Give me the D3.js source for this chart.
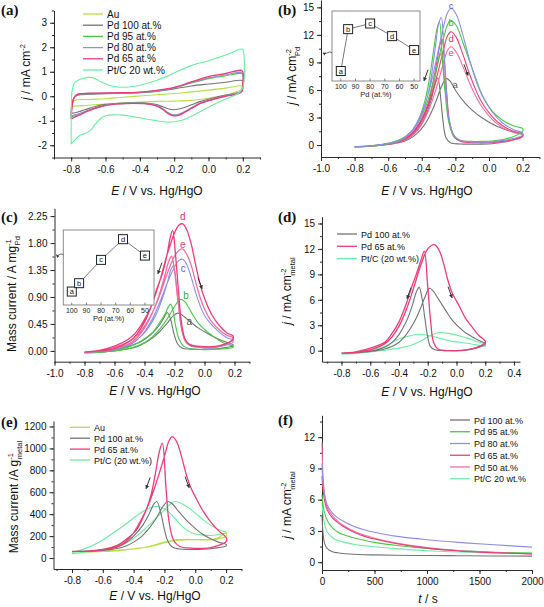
<!DOCTYPE html>
<html><head><meta charset="utf-8">
<script src="https://cdn.jsdelivr.net/npm/d3@7"></script>
<style>body{margin:0;background:#fff}svg{display:block}</style>
</head><body>
<script>
// ---------- colours per sample ----------
const COL = {Au:"#b9dc4a", Pd100:"#737373", Pd95:"#45c845", Pd80:"#8e8ee6", Pd65:"#ec3d78", Pd50:"#ee6f9f", PtC:"#6aeea0"};

// ---------- (a) CVs in KOH : [E (V), j (mA cm-2)] ----------
const cvA_Au = [[-0.8,-0.55],[-0.795,-0.3],[-0.78,-0.17],[-0.7,-0.13],[-0.6,-0.1],[-0.5,-0.04],[-0.4,0.01],[-0.3,0.06],[-0.2,0.11],[-0.1,0.18],[0.0,0.25],[0.1,0.33],[0.19,0.42],[0.2,0.35],[0.19,0.26],[0.15,0.15],[0.1,0.05],[0.0,-0.08],[-0.1,-0.17],[-0.2,-0.2],[-0.3,-0.21],[-0.4,-0.24],[-0.5,-0.28],[-0.6,-0.32],[-0.7,-0.37],[-0.8,-0.45],[-0.8,-0.55]];
const cvA_Pd100 = [[-0.8,-0.7],[-0.795,-0.35],[-0.785,-0.1],[-0.77,0.02],[-0.75,0.06],[-0.7,0.08],[-0.6,0.1],[-0.5,0.12],[-0.4,0.14],[-0.3,0.2],[-0.2,0.3],[-0.1,0.42],[0.0,0.5],[0.1,0.57],[0.19,0.65],[0.2,0.6],[0.2,0.35],[0.19,0.2],[0.15,0.1],[0.1,0.05],[0.05,-0.03],[0.0,-0.12],[-0.05,-0.22],[-0.1,-0.35],[-0.15,-0.48],[-0.2,-0.55],[-0.23,-0.52],[-0.27,-0.42],[-0.31,-0.33],[-0.37,-0.28],[-0.45,-0.27],[-0.53,-0.29],[-0.6,-0.33],[-0.66,-0.42],[-0.72,-0.55],[-0.76,-0.64],[-0.8,-0.7]];
const cvA_Pd95 = [[-0.8,-0.85],[-0.795,-0.4],[-0.785,-0.08],[-0.77,0.04],[-0.75,0.08],[-0.7,0.1],[-0.6,0.12],[-0.5,0.13],[-0.4,0.15],[-0.3,0.22],[-0.2,0.34],[-0.1,0.54],[0.0,0.72],[0.1,0.84],[0.19,0.93],[0.2,0.88],[0.2,0.45],[0.19,0.2],[0.15,0.1],[0.1,0.02],[0.05,-0.07],[0.0,-0.17],[-0.05,-0.29],[-0.1,-0.48],[-0.14,-0.64],[-0.18,-0.77],[-0.21,-0.77],[-0.24,-0.66],[-0.27,-0.5],[-0.31,-0.36],[-0.36,-0.3],[-0.44,-0.28],[-0.52,-0.3],[-0.58,-0.34],[-0.64,-0.44],[-0.7,-0.58],[-0.75,-0.72],[-0.8,-0.85]];
const cvA_Pd80 = [[-0.8,-0.8],[-0.795,-0.38],[-0.785,-0.08],[-0.77,0.05],[-0.75,0.09],[-0.7,0.11],[-0.6,0.12],[-0.5,0.14],[-0.4,0.16],[-0.3,0.23],[-0.2,0.35],[-0.1,0.56],[0.0,0.75],[0.1,0.87],[0.19,0.97],[0.2,0.9],[0.2,0.45],[0.19,0.2],[0.15,0.1],[0.1,0.02],[0.05,-0.07],[0.0,-0.17],[-0.05,-0.29],[-0.1,-0.47],[-0.14,-0.63],[-0.18,-0.75],[-0.21,-0.75],[-0.24,-0.65],[-0.27,-0.5],[-0.31,-0.36],[-0.36,-0.3],[-0.44,-0.28],[-0.52,-0.3],[-0.58,-0.34],[-0.64,-0.44],[-0.7,-0.57],[-0.75,-0.7],[-0.8,-0.8]];
const cvA_Pd65 = [[-0.8,-0.92],[-0.795,-0.4],[-0.785,-0.08],[-0.77,0.05],[-0.75,0.1],[-0.7,0.12],[-0.6,0.13],[-0.5,0.14],[-0.44,0.15],[-0.35,0.2],[-0.3,0.24],[-0.2,0.36],[-0.1,0.58],[0.0,0.8],[0.1,0.93],[0.19,1.06],[0.2,1.0],[0.2,0.5],[0.195,0.2],[0.17,0.1],[0.14,0.05],[0.1,0.0],[0.05,-0.08],[0.0,-0.18],[-0.05,-0.3],[-0.1,-0.5],[-0.14,-0.66],[-0.18,-0.79],[-0.21,-0.79],[-0.24,-0.68],[-0.27,-0.52],[-0.31,-0.38],[-0.36,-0.31],[-0.44,-0.29],[-0.52,-0.31],[-0.58,-0.35],[-0.64,-0.45],[-0.7,-0.6],[-0.75,-0.76],[-0.8,-0.92]];
const cvA_PtC = [[-0.8,-1.95],[-0.799,-0.5],[-0.795,0.2],[-0.78,0.55],[-0.75,0.68],[-0.7,0.77],[-0.67,0.75],[-0.63,0.6],[-0.58,0.45],[-0.53,0.38],[-0.48,0.37],[-0.4,0.45],[-0.3,0.65],[-0.23,0.85],[-0.17,1.05],[-0.1,1.25],[0.0,1.45],[0.1,1.68],[0.19,1.93],[0.2,1.9],[0.2,0.35],[0.17,0.1],[0.14,0.0],[0.1,-0.12],[0.05,-0.27],[0.0,-0.45],[-0.05,-0.63],[-0.1,-0.82],[-0.15,-0.97],[-0.2,-1.04],[-0.25,-1.05],[-0.3,-1.0],[-0.35,-0.95],[-0.4,-0.88],[-0.45,-0.82],[-0.5,-0.77],[-0.55,-0.76],[-0.6,-0.8],[-0.63,-0.92],[-0.66,-1.15],[-0.69,-1.4],[-0.72,-1.52],[-0.75,-1.6],[-0.78,-1.8],[-0.8,-1.95]];

// ---------- (b) ethanol CVs, j per Pd area [E, j] (forward then backward) ----------
const cvB_a = [[-0.8,-0.18],[-0.712,-0.12],[-0.624,0.0],[-0.537,0.25],[-0.493,0.5],[-0.449,0.95],[-0.405,1.7],[-0.361,2.9],[-0.317,4.7],[-0.282,6.4],[-0.254,7.26],[-0.229,6.9],[-0.194,5.8],[-0.144,4.6],[-0.094,3.7],[-0.044,3.0],[0.019,2.3],[0.081,1.8],[0.144,1.4],[0.2,1.15],[0.2,0.95],[0.144,0.55],[0.081,0.3],[0.019,0.15],[-0.044,0.1],[-0.106,0.1],[-0.169,0.12],[-0.229,0.25],[-0.256,0.8],[-0.273,2.5],[-0.287,5.0],[-0.304,7.3],[-0.321,6.6],[-0.343,5.0],[-0.370,3.5],[-0.405,2.2],[-0.449,1.2],[-0.493,0.65],[-0.537,0.35],[-0.624,0.05],[-0.712,-0.1],[-0.8,-0.18]];
const cvB_b = [[-0.8,-0.2],[-0.712,-0.12],[-0.624,0.05],[-0.537,0.45],[-0.493,0.9],[-0.449,1.7],[-0.405,3.0],[-0.361,5.0],[-0.317,8.0],[-0.273,11.5],[-0.247,13.1],[-0.229,13.6],[-0.194,13.0],[-0.156,11.2],[-0.119,9.3],[-0.081,7.4],[-0.044,5.6],[0.019,3.7],[0.081,2.7],[0.144,2.1],[0.2,1.8],[0.2,1.5],[0.144,0.9],[0.081,0.6],[0.019,0.45],[-0.044,0.4],[-0.106,0.4],[-0.169,0.5],[-0.206,0.9],[-0.238,2.4],[-0.260,5.5],[-0.278,9.5],[-0.295,13.4],[-0.308,12.8],[-0.326,10.8],[-0.352,7.5],[-0.379,5.0],[-0.414,3.0],[-0.449,1.8],[-0.493,1.0],[-0.537,0.55],[-0.624,0.1],[-0.712,-0.1],[-0.8,-0.2]];
const cvB_c = [[-0.8,-0.18],[-0.712,-0.1],[-0.624,0.1],[-0.537,0.45],[-0.493,0.9],[-0.449,1.8],[-0.405,3.3],[-0.361,5.6],[-0.317,9.0],[-0.273,12.7],[-0.247,14.4],[-0.225,14.9],[-0.194,14.2],[-0.156,12.0],[-0.119,9.5],[-0.081,7.2],[-0.044,5.5],[0.019,3.6],[0.081,2.4],[0.144,1.7],[0.2,1.3],[0.2,1.1],[0.144,0.7],[0.081,0.5],[0.019,0.35],[-0.044,0.3],[-0.106,0.35],[-0.169,0.5],[-0.206,1.0],[-0.238,2.8],[-0.256,6.5],[-0.269,10.5],[-0.284,13.9],[-0.300,13.2],[-0.317,11.0],[-0.343,7.5],[-0.370,5.0],[-0.405,3.1],[-0.449,1.7],[-0.493,0.95],[-0.537,0.5],[-0.624,0.1],[-0.712,-0.1],[-0.8,-0.18]];
const cvB_d = [[-0.8,-0.18],[-0.712,-0.12],[-0.624,0.05],[-0.537,0.35],[-0.493,0.7],[-0.449,1.35],[-0.405,2.5],[-0.361,4.3],[-0.317,7.0],[-0.273,10.2],[-0.247,11.9],[-0.225,12.35],[-0.194,11.7],[-0.156,9.9],[-0.119,7.9],[-0.081,6.1],[-0.044,4.7],[0.019,3.1],[0.081,2.1],[0.144,1.5],[0.2,1.2],[0.2,1.0],[0.144,0.6],[0.081,0.4],[0.019,0.3],[-0.044,0.25],[-0.106,0.3],[-0.169,0.45],[-0.206,0.9],[-0.234,2.5],[-0.251,5.5],[-0.264,8.8],[-0.278,11.5],[-0.291,11.0],[-0.308,9.3],[-0.335,6.6],[-0.361,4.6],[-0.405,2.7],[-0.449,1.5],[-0.493,0.8],[-0.537,0.4],[-0.624,0.05],[-0.712,-0.12],[-0.8,-0.18]];
const cvB_e = [[-0.8,-0.18],[-0.712,-0.12],[-0.624,0.03],[-0.537,0.3],[-0.493,0.6],[-0.449,1.15],[-0.405,2.1],[-0.361,3.7],[-0.317,6.0],[-0.273,8.8],[-0.247,10.3],[-0.225,10.7],[-0.194,10.1],[-0.156,8.6],[-0.119,6.9],[-0.081,5.4],[-0.044,4.2],[0.019,2.8],[0.081,1.9],[0.144,1.4],[0.2,1.1],[0.2,0.9],[0.144,0.55],[0.081,0.35],[0.019,0.25],[-0.044,0.22],[-0.106,0.25],[-0.169,0.4],[-0.206,0.8],[-0.234,2.2],[-0.251,4.8],[-0.269,7.9],[-0.282,10.0],[-0.295,9.6],[-0.313,8.1],[-0.339,5.7],[-0.370,3.8],[-0.405,2.4],[-0.449,1.3],[-0.493,0.7],[-0.537,0.35],[-0.624,0.03],[-0.712,-0.12],[-0.8,-0.18]];
const insetB_pd = [100, 95, 80, 65, 50];
const insetB_j = [7.4, 14.1, 15.0, 12.98, 10.75];
const insetLetters = ["a","b","c","d","e"];

// ---------- (c) mass current [E, A mg-1 Pd] ----------
const cvC_a = [[-0.8,-0.03],[-0.7,-0.02],[-0.6,0.0],[-0.5,0.04],[-0.45,0.07],[-0.4,0.13],[-0.35,0.21],[-0.3,0.32],[-0.25,0.46],[-0.21,0.58],[-0.18,0.63],[-0.15,0.6],[-0.12,0.54],[-0.08,0.46],[-0.04,0.38],[0.0,0.32],[0.05,0.25],[0.1,0.19],[0.15,0.14],[0.19,0.1],[0.19,0.08],[0.15,0.06],[0.1,0.04],[0.0,0.03],[-0.1,0.03],[-0.15,0.05],[-0.18,0.12],[-0.205,0.3],[-0.225,0.52],[-0.248,0.64],[-0.265,0.58],[-0.29,0.47],[-0.32,0.37],[-0.36,0.27],[-0.42,0.16],[-0.5,0.08],[-0.6,0.02],[-0.7,-0.02],[-0.8,-0.03]];
const cvC_b = [[-0.8,-0.03],[-0.7,-0.02],[-0.6,0.0],[-0.5,0.04],[-0.45,0.08],[-0.4,0.14],[-0.35,0.23],[-0.3,0.36],[-0.25,0.53],[-0.2,0.74],[-0.175,0.83],[-0.157,0.86],[-0.13,0.82],[-0.1,0.7],[-0.07,0.57],[-0.04,0.46],[0.0,0.36],[0.05,0.26],[0.1,0.17],[0.15,0.11],[0.19,0.08],[0.19,0.06],[0.15,0.04],[0.1,0.03],[0.0,0.02],[-0.1,0.04],[-0.14,0.08],[-0.17,0.2],[-0.195,0.45],[-0.21,0.68],[-0.225,0.78],[-0.24,0.74],[-0.26,0.63],[-0.3,0.47],[-0.35,0.3],[-0.42,0.17],[-0.5,0.07],[-0.6,0.01],[-0.7,-0.02],[-0.8,-0.03]];
const cvC_c = [[-0.8,-0.03],[-0.7,-0.01],[-0.6,0.02],[-0.5,0.1],[-0.45,0.18],[-0.4,0.32],[-0.35,0.52],[-0.3,0.8],[-0.25,1.12],[-0.2,1.4],[-0.17,1.51],[-0.145,1.53],[-0.12,1.45],[-0.09,1.24],[-0.06,0.98],[-0.03,0.76],[0.0,0.59],[0.05,0.43],[0.1,0.31],[0.15,0.22],[0.19,0.18],[0.19,0.14],[0.15,0.1],[0.1,0.07],[0.05,0.05],[0.0,0.05],[-0.05,0.06],[-0.1,0.09],[-0.13,0.17],[-0.155,0.4],[-0.175,0.8],[-0.192,1.2],[-0.208,1.42],[-0.225,1.35],[-0.25,1.12],[-0.28,0.88],[-0.32,0.62],[-0.37,0.4],[-0.42,0.25],[-0.48,0.14],[-0.6,0.04],[-0.7,-0.01],[-0.8,-0.03]];
const cvC_d = [[-0.8,-0.02],[-0.7,0.0],[-0.6,0.04],[-0.5,0.16],[-0.45,0.28],[-0.4,0.48],[-0.35,0.78],[-0.3,1.15],[-0.25,1.6],[-0.2,1.97],[-0.17,2.1],[-0.145,2.12],[-0.12,2.03],[-0.09,1.8],[-0.06,1.45],[-0.03,1.12],[0.0,0.88],[0.05,0.6],[0.1,0.42],[0.15,0.3],[0.19,0.25],[0.19,0.2],[0.15,0.13],[0.1,0.09],[0.05,0.07],[0.0,0.07],[-0.05,0.08],[-0.1,0.11],[-0.13,0.2],[-0.155,0.5],[-0.175,1.05],[-0.195,1.65],[-0.212,2.01],[-0.228,1.9],[-0.25,1.6],[-0.28,1.3],[-0.32,1.02],[-0.36,0.72],[-0.41,0.48],[-0.46,0.3],[-0.51,0.19],[-0.6,0.08],[-0.7,0.01],[-0.8,-0.02]];
const cvC_e = [[-0.8,-0.02],[-0.7,0.0],[-0.6,0.03],[-0.5,0.12],[-0.45,0.22],[-0.4,0.38],[-0.35,0.62],[-0.3,0.92],[-0.25,1.28],[-0.2,1.58],[-0.17,1.68],[-0.145,1.7],[-0.12,1.62],[-0.09,1.44],[-0.06,1.16],[-0.03,0.9],[0.0,0.7],[0.05,0.48],[0.1,0.35],[0.15,0.26],[0.19,0.22],[0.19,0.18],[0.15,0.12],[0.1,0.08],[0.05,0.06],[0.0,0.06],[-0.05,0.07],[-0.1,0.1],[-0.13,0.18],[-0.155,0.42],[-0.18,0.9],[-0.2,1.35],[-0.22,1.58],[-0.24,1.48],[-0.265,1.25],[-0.3,0.95],[-0.34,0.68],[-0.39,0.45],[-0.44,0.28],[-0.5,0.16],[-0.6,0.06],[-0.7,0.0],[-0.8,-0.02]];
const insetC_pd = [100, 95, 80, 65, 50];
const insetC_m = [0.62, 0.857, 1.515, 2.1, 1.637];

// ---------- (d) j per metal area [E, j] ----------
const cvD_Pd100 = [[-0.8,-0.3],[-0.7,-0.25],[-0.6,-0.1],[-0.5,0.2],[-0.45,0.5],[-0.4,1.0],[-0.35,1.9],[-0.3,3.2],[-0.26,4.6],[-0.22,6.3],[-0.189,7.35],[-0.16,7.0],[-0.13,6.2],[-0.1,5.4],[-0.07,4.6],[-0.03,3.6],[0.015,2.8],[0.06,2.15],[0.108,1.65],[0.15,1.25],[0.2,0.87],[0.2,0.75],[0.15,0.35],[0.1,0.15],[0.05,0.05],[0.0,0.0],[-0.05,0.0],[-0.1,0.02],[-0.15,0.1],[-0.18,0.45],[-0.2,1.6],[-0.22,3.8],[-0.24,6.2],[-0.26,7.47],[-0.28,6.9],[-0.31,5.2],[-0.35,3.4],[-0.4,1.9],[-0.45,0.95],[-0.5,0.4],[-0.6,-0.05],[-0.7,-0.22],[-0.8,-0.3]];
const cvD_Pd65 = [[-0.8,-0.3],[-0.7,-0.2],[-0.6,0.1],[-0.5,0.8],[-0.45,1.6],[-0.4,2.9],[-0.35,4.8],[-0.3,7.3],[-0.25,10.0],[-0.2,12.0],[-0.154,12.5],[-0.12,11.8],[-0.09,10.3],[-0.06,8.3],[-0.03,6.8],[0.015,5.4],[0.06,3.9],[0.108,2.8],[0.15,1.9],[0.2,1.1],[0.2,0.95],[0.15,0.45],[0.1,0.2],[0.05,0.05],[0.0,0.0],[-0.05,0.0],[-0.1,0.05],[-0.13,0.2],[-0.16,1.0],[-0.18,3.5],[-0.2,7.5],[-0.224,11.74],[-0.245,10.8],[-0.28,9.0],[-0.31,7.6],[-0.35,5.5],[-0.4,3.4],[-0.45,2.0],[-0.495,1.06],[-0.59,0.35],[-0.7,-0.15],[-0.8,-0.3]];
const cvD_PtC = [[-0.8,-0.4],[-0.7,-0.32],[-0.6,-0.15],[-0.5,0.05],[-0.4,0.3],[-0.31,0.67],[-0.25,1.15],[-0.2,1.6],[-0.16,1.95],[-0.131,2.12],[-0.09,2.1],[-0.03,1.95],[0.03,1.7],[0.08,1.45],[0.13,1.15],[0.2,0.75],[0.2,0.55],[0.15,0.65],[0.085,0.85],[0.03,1.0],[-0.03,1.1],[-0.08,1.3],[-0.124,1.5],[-0.18,1.75],[-0.22,1.88],[-0.26,1.93],[-0.3,1.85],[-0.35,1.65],[-0.4,1.38],[-0.45,0.95],[-0.5,0.5],[-0.55,0.25],[-0.6,0.1],[-0.7,-0.15],[-0.8,-0.38]];

// ---------- (e) mass current [E, A g-1 metal] ----------
const cvE_Au = [[-0.8,55],[-0.7,55],[-0.6,60],[-0.5,68],[-0.4,82],[-0.3,105],[-0.25,125],[-0.2,145],[-0.15,160],[-0.1,168],[-0.05,170],[0.0,168],[0.05,165],[0.1,168],[0.15,185],[0.2,230],[0.2,200],[0.15,175],[0.1,168],[0.05,168],[0.0,168],[-0.05,167],[-0.1,162],[-0.15,155],[-0.2,140],[-0.25,120],[-0.3,103],[-0.4,85],[-0.5,72],[-0.6,65],[-0.7,60],[-0.8,58]];
const cvE_Pd100 = [[-0.8,60],[-0.7,62],[-0.6,70],[-0.5,90],[-0.45,110],[-0.4,145],[-0.35,195],[-0.3,270],[-0.25,370],[-0.21,470],[-0.179,516],[-0.15,495],[-0.12,445],[-0.08,380],[-0.04,320],[0.0,270],[0.05,215],[0.1,175],[0.15,145],[0.2,125],[0.2,110],[0.15,95],[0.1,85],[0.05,80],[0.0,78],[-0.05,78],[-0.1,82],[-0.15,100],[-0.18,160],[-0.2,260],[-0.22,390],[-0.25,516],[-0.27,490],[-0.3,400],[-0.34,300],[-0.4,200],[-0.45,140],[-0.5,105],[-0.6,75],[-0.7,63],[-0.8,60]];
const cvE_Pd65 = [[-0.8,60],[-0.7,63],[-0.6,78],[-0.5,105],[-0.45,150],[-0.4,230],[-0.35,350],[-0.3,500],[-0.25,700],[-0.2,930],[-0.17,1070],[-0.149,1108],[-0.12,1060],[-0.09,930],[-0.06,770],[-0.03,645],[0.0,560],[0.05,430],[0.1,330],[0.15,250],[0.2,190],[0.2,150],[0.15,115],[0.1,95],[0.05,88],[0.0,88],[-0.05,92],[-0.1,105],[-0.14,160],[-0.17,330],[-0.19,640],[-0.214,1048],[-0.235,960],[-0.26,760],[-0.29,560],[-0.33,400],[-0.38,260],[-0.43,190],[-0.5,120],[-0.6,78],[-0.7,63],[-0.8,60]];
const cvE_PtC = [[-0.8,40],[-0.7,55],[-0.6,75],[-0.5,110],[-0.45,140],[-0.4,180],[-0.35,235],[-0.3,300],[-0.25,370],[-0.2,440],[-0.16,495],[-0.131,516],[-0.1,505],[-0.05,465],[0.0,410],[0.05,350],[0.1,300],[0.15,260],[0.2,235],[0.2,230],[0.15,215],[0.1,205],[0.05,210],[0.0,220],[-0.05,250],[-0.1,310],[-0.15,390],[-0.2,450],[-0.25,470],[-0.3,455],[-0.35,415],[-0.4,365],[-0.45,310],[-0.5,260],[-0.55,212],[-0.6,165],[-0.65,125],[-0.7,95],[-0.75,70],[-0.8,50]];

// ---------- (f) chronoamperometry ----------
const caT = [0,10,25,50,100,150,200,300,400,500,700,1000,1300,1600,2000];
const caPd100 = [4.5,2.8,1.8,1.3,1.0,0.9,0.83,0.76,0.72,0.7,0.67,0.64,0.62,0.6,0.58];
const caPd95 = [6.5,5.5,4.7,4.0,3.3,2.9,2.65,2.35,2.1,1.9,1.62,1.32,1.12,0.98,0.88];
const caPd80 = [9.5,7.6,6.4,5.5,4.7,4.25,3.95,3.45,3.12,2.88,2.5,2.15,1.9,1.7,1.45];
const caPd65 = [8.3,6.9,5.9,5.0,4.25,3.8,3.45,2.9,2.5,2.22,1.8,1.35,1.08,0.92,0.78];
const caPd50 = [11.5,8.2,6.5,5.3,4.45,3.95,3.55,3.0,2.6,2.3,1.85,1.4,1.12,0.95,0.8];
const caPtC = [5.8,4.6,3.6,2.9,2.35,2.1,1.95,1.72,1.58,1.48,1.3,1.1,0.98,0.9,0.84];

// ---------- legends ----------
const legA = ["Au","Pd 100 at.%","Pd 95 at.%","Pd 80 at.%","Pd 65 at.%","Pt/C 20 wt.%"];
const legD = ["Pd 100 at.%","Pd 65 at.%","Pt/C (20 wt.%)"];
const legE = ["Au","Pd 100 at.%","Pd 65 at.%","Pt/C (20 wt.%)"];
const legF = ["Pd 100 at.%","Pd 95 at.%","Pd 80 at.%","Pd 65 at.%","Pd 50 at.%","Pt/C 20 wt.%"];

// ---------- tick values ----------
const tkE9 = [-0.8,-0.6,-0.4,-0.2,0,0.2];
const tkE10 = [-1.0,-0.8,-0.6,-0.4,-0.2,0,0.2];
const tkE8 = [-0.8,-0.6,-0.4,-0.2,0,0.2,0.4];
const tkA = [-2,-1,0,1,2,3];
const tkJ = [0,3,6,9,12,15];
const tkM = [0,0.45,0.9,1.35,1.8,2.25];
const tkMg = [0,200,400,600,800,1000,1200];
const tkF = [0,3,6,9,12];
const tkT = [0,500,1000,1500,2000];

// ================= drawing =================
const FONT = "'Liberation Sans', Arial, Helvetica, sans-serif";
const svg = d3.select("body").append("svg").attr("width",544).attr("height",607).style("font-family",FONT);
const defs = svg.append("defs");
defs.append("marker").attr("id","ah").attr("viewBox","0 0 6 6").attr("refX",5).attr("refY",3)
  .attr("markerWidth",4).attr("markerHeight",4).attr("orient","auto")
  .append("path").attr("d","M0,0L6,3L0,6z").attr("fill","#333");

const f1 = d => (+d).toFixed(1), f2 = d => (+d).toFixed(2), f0 = d => String(d);
const rng = (a,b,s) => d3.range(Math.round(a/s), Math.round(b/s)+1).map(i => +(i*s).toFixed(4));

function panel(o){
  const g = svg.append("g");
  const x = d3.scaleLinear().domain(o.xd).range(o.xr);
  const y = d3.scaleLinear().domain(o.yd).range(o.yr);
  const by = o.yr[0], lx = o.xr[0];
  const style = sel => { sel.attr("font-family",FONT); sel.selectAll("path,line").attr("stroke","#2a2a2a").attr("stroke-width",1); sel.selectAll("text").attr("font-size",10).attr("fill","#111"); };
  g.append("g").attr("transform",`translate(0,${by})`).call(d3.axisBottom(x).tickValues(o.xm).tickSize(2).tickSizeOuter(0).tickFormat("")).call(style).call(s=>s.select(".domain").remove());
  g.append("g").attr("transform",`translate(${lx},0)`).call(d3.axisLeft(y).tickValues(o.ym).tickSize(2).tickSizeOuter(0).tickFormat("")).call(style).call(s=>s.select(".domain").remove());
  g.append("g").attr("transform",`translate(0,${by})`).call(d3.axisBottom(x).tickValues(o.xt).tickSize(4).tickSizeOuter(0).tickPadding(4).tickFormat(o.xf)).call(style);
  g.append("g").attr("transform",`translate(${lx},0)`).call(d3.axisLeft(y).tickValues(o.yt).tickSize(4).tickSizeOuter(0).tickPadding(3).tickFormat(o.yf)).call(style);
  const pg = g.append("g");
  return {g, pg, x, y};
}
function curve(p, data, color, w){
  const line = d3.line().x(d=>p.x(d[0])).y(d=>p.y(d[1])).curve(d3.curveCatmullRom.alpha(0.5));
  p.pg.append("path").attr("d",line(data)).attr("fill","none").attr("stroke",color).attr("stroke-width",w||1.1).attr("stroke-linejoin","round");
}
function xTitle(cx, by, italic, rest){
  const t = svg.append("text").attr("x",cx).attr("y",by).attr("text-anchor","middle").attr("font-size",12).attr("fill","#111");
  t.append("tspan").attr("font-style","italic").text(italic);
  t.append("tspan").text(rest);
}
function yTitle(bx, cy, italic, main, sup, sub, subDx){
  const t = svg.append("text").attr("transform",`translate(${bx},${cy}) rotate(-90)`).attr("text-anchor","middle").attr("font-size",12).attr("fill","#111");
  if(italic) t.append("tspan").attr("font-style","italic").text(italic);
  t.append("tspan").text(main);
  t.append("tspan").attr("font-size",7.5).attr("dy",-5).text(sup);
  if(sub) t.append("tspan").attr("font-size",7.5).attr("dx",subDx).attr("dy",9).text(sub);
}
function plabel(x, y, s){
  svg.append("text").attr("x",x).attr("y",y).attr("font-family","'Liberation Serif','Times New Roman',serif").attr("font-weight","bold").attr("font-size",15).attr("fill","#111").text(s);
}
function legend(x0, y0, dy, names, cols, fs){
  names.forEach((n,i)=>{
    const yy = y0 + i*dy;
    svg.append("line").attr("x1",x0).attr("x2",x0+20).attr("y1",yy).attr("y2",yy).attr("stroke",cols[i]).attr("stroke-width",1.3);
    svg.append("text").attr("x",x0+24).attr("y",yy+3.5).attr("font-size",fs).attr("fill","#111").text(n);
  });
}
function scanArrow(p, ex, ey, dir){
  const cx = p.x(ex), cy = p.y(ey);
  const dx = dir<0 ? -2 : 2;
  p.g.append("line").attr("x1",cx-dx).attr("y1",cy-5.5).attr("x2",cx+dx).attr("y2",cy+5.5)
    .attr("stroke","#333").attr("stroke-width",1).attr("marker-end","url(#ah)");
}
function inset(o){
  const g = svg.append("g");
  const x = d3.scaleLinear().domain(o.xd).range(o.xr);
  const y = d3.scaleLinear().domain(o.yd).range(o.yr);
  g.append("rect").attr("x",o.xr[0]).attr("y",o.yr[1]).attr("width",o.xr[1]-o.xr[0]).attr("height",o.yr[0]-o.yr[1])
    .attr("fill","#fff").attr("stroke","#8a8a8a").attr("stroke-width",1);
  [100,90,80,70,60,50].forEach(v=>{
    g.append("line").attr("x1",x(v)).attr("x2",x(v)).attr("y1",o.yr[0]).attr("y2",o.yr[0]-2.5).attr("stroke","#666").attr("stroke-width",0.8);
    g.append("text").attr("x",x(v)).attr("y",o.yr[0]+8).attr("text-anchor","middle").attr("font-size",7).attr("fill","#222").text(v);
  });
  g.append("text").attr("x",(o.xr[0]+o.xr[1])/2).attr("y",o.yr[0]+16).attr("text-anchor","middle").attr("font-size",7.5).attr("fill","#222").text("Pd (at.%)");
  const pts = o.px.map((v,i)=>[v,o.py[i]]);
  g.append("path").attr("d",d3.line().x(d=>x(d[0])).y(d=>y(d[1]))(pts)).attr("fill","none").attr("stroke","#555").attr("stroke-width",0.8);
  pts.forEach((d,i)=>{
    g.append("rect").attr("x",x(d[0])-4.5).attr("y",y(d[1])-4.5).attr("width",9).attr("height",9).attr("fill","#fff").attr("stroke","#222").attr("stroke-width",1);
    g.append("text").attr("x",x(d[0])).attr("y",y(d[1])+2.6).attr("text-anchor","middle").attr("font-size",7.5).attr("fill","#111").text(insetLetters[i]);
  });
  const py = o.pointerY;
  g.append("path").attr("d",`M${o.xr[0]},${py} C${o.xr[0]-3},${py-3} ${o.xr[0]-5},${py+2} ${o.axisX+2},${py}`)
    .attr("fill","none").attr("stroke","#333").attr("stroke-width",0.8).attr("marker-end","url(#ah)");
}

// ----- (a) -----
const pA = panel({xd:[-0.9,0.3], xr:[54,260], yd:[-2.5,3.5], yr:[157.5,10.5], xt:tkE9, xm:rng(-0.9,0.3,0.1), yt:tkA, ym:rng(-2.5,3.5,0.5), xf:f1, yf:f0});
curve(pA, cvA_Au, COL.Au); curve(pA, cvA_Pd100, COL.Pd100); curve(pA, cvA_Pd95, COL.Pd95);
curve(pA, cvA_Pd80, COL.Pd80); curve(pA, cvA_Pd65, COL.Pd65, 1.4); curve(pA, cvA_PtC, COL.PtC);
legend(83, 14, 11.2, legA, [COL.Au,COL.Pd100,COL.Pd95,COL.Pd80,COL.Pd65,COL.PtC], 10);
xTitle(157, 195, "E", " / V vs. Hg/HgO");
yTitle(30, 72, "j", " / mA cm", "-2");
plabel(1, 15, "(a)");

// ----- (b) -----
const pB = panel({xd:[-1.0,0.3], xr:[321,539.4], yd:[-1.3,15.8], yr:[157,0], xt:tkE10, xm:rng(-1.0,0.3,0.1), yt:tkJ, ym:rng(0,15,1.5), xf:f1, yf:f0});
curve(pB, cvB_a, COL.Pd100); curve(pB, cvB_e, COL.Pd50); curve(pB, cvB_d, COL.Pd65);
curve(pB, cvB_b, COL.Pd95); curve(pB, cvB_c, COL.Pd80);
[["c",-0.226,14.87,"#4a55cc"],["b",-0.226,12.95,"#3aa83a"],["d",-0.226,11.2,"#e0306a"],["e",-0.226,9.7,"#d8407a"],["a",-0.202,6.2,"#555"]]
  .forEach(l=>pB.g.append("text").attr("x",pB.x(l[1])).attr("y",pB.y(l[2])).attr("text-anchor","middle").attr("font-size",9.5).attr("fill",l[3]).text(l[0]));
scanArrow(pB, -0.375, 7.6, -1); scanArrow(pB, -0.137, 8.2, 1);
inset({xd:[106,46], xr:[332,420], yd:[5.8,17.0], yr:[81,11], px:insetB_pd, py:insetB_j, pointerY:53, axisX:321});
xTitle(427, 195, "E", " / V vs. Hg/HgO");
yTitle(296, 76, "j", " / mA cm", "-2", "Pd", -7);
plabel(278, 15, "(b)");

// ----- (c) -----
const pC = panel({xd:[-1.0,0.3], xr:[54.5,249.5], yd:[-0.18,2.38], yr:[361.7,208.3], xt:tkE10, xm:rng(-1.0,0.3,0.1), yt:tkM, ym:rng(0,2.25,0.225), xf:f1, yf:f2});
curve(pC, cvC_a, COL.Pd100); curve(pC, cvC_b, COL.Pd95); curve(pC, cvC_c, COL.Pd80);
curve(pC, cvC_e, COL.Pd50, 1.3); curve(pC, cvC_d, COL.Pd65, 1.3);
[["d",-0.145,2.185,"#e0306a"],["e",-0.145,1.72,"#d8407a"],["c",-0.141,1.32,"#5a66d0"],["b",-0.123,0.866,"#3aa83a"],["a",-0.101,0.44,"#555"]]
  .forEach(l=>pC.g.append("text").attr("x",pC.x(l[1])).attr("y",pC.y(l[2])).attr("text-anchor","middle").attr("font-size",10).attr("fill",l[3]).text(l[0]));
scanArrow(pC, -0.297, 1.38, -1); scanArrow(pC, -0.03, 1.13, 1);
inset({xd:[105.8,43.8], xr:[63.3,154], yd:[0.24,2.36], yr:[305,230], px:insetC_pd, py:insetC_m, pointerY:255, axisX:54.5});
xTitle(155, 395, "E", " / V vs. Hg/HgO");
yTitle(16, 294, null, "Mass current / A mg", "-1", "Pd", -6);
plabel(1, 222, "(c)");

// ----- (d) -----
const pD = panel({xd:[-0.936,0.442], xr:[322,520], yd:[-1.3,15.8], yr:[361.7,216.7], xt:tkE8, xm:rng(-0.9,0.4,0.1), yt:tkJ, ym:rng(0,15,1.5), xf:f1, yf:f0});
curve(pD, cvD_PtC, COL.PtC); curve(pD, cvD_Pd100, COL.Pd100); curve(pD, cvD_Pd65, COL.Pd65, 1.3);
legend(337, 234, 12.3, legD, [COL.Pd100,COL.Pd65,COL.PtC], 9);
scanArrow(pD, -0.33, 6.8, -1); scanArrow(pD, -0.045, 6.9, 1);
xTitle(427, 396, "E", " / V vs. Hg/HgO");
yTitle(291, 291, "j", " / mA cm", "-2", "metal", -7);
plabel(278, 222, "(d)");

// ----- (e) -----
const pE = panel({xd:[-0.92,0.3], xr:[53.5,241.5], yd:[-100,1250], yr:[569,421], xt:tkE9, xm:rng(-0.9,0.3,0.1), yt:tkMg, ym:rng(0,1200,100), xf:f1, yf:f0});
curve(pE, cvE_Au, COL.Au); curve(pE, cvE_PtC, COL.PtC); curve(pE, cvE_Pd100, COL.Pd100); curve(pE, cvE_Pd65, COL.Pd65, 1.3);
legend(70, 427.3, 10.9, legE, [COL.Au,COL.Pd100,COL.Pd65,COL.PtC], 9);
scanArrow(pE, -0.306, 684, -1); scanArrow(pE, -0.053, 693, 1);
xTitle(155, 600, "E", " / V vs. Hg/HgO");
yTitle(18, 497, null, "Mass current /A g", "-1", "metal", -6);
plabel(1, 427, "(e)");

// ----- (f) -----
const pF = panel({xd:[0,2000], xr:[322,532], yd:[-0.75,14.1], yr:[570,415.3], xt:tkT, xm:rng(0,2000,250), yt:tkF, ym:rng(0,13.5,1.5), xf:f0, yf:f0});
const caSeries = [[caPtC,COL.PtC],[caPd100,COL.Pd100],[caPd95,COL.Pd95],[caPd50,COL.Pd50],[caPd65,COL.Pd65],[caPd80,COL.Pd80]];
caSeries.forEach(s=>curve(pF, caT.map((t,i)=>[t,s[0][i]]), s[1], 1.1));
legend(450, 420, 11.75, legF, [COL.Pd100,COL.Pd95,COL.Pd80,COL.Pd65,COL.Pd50,COL.PtC], 9);
xTitle(428, 603, "t", " / s");
yTitle(291, 505, "j", " / mA cm", "-2", "metal", -7);
plabel(278, 425, "(f)");
</script>
</body></html>
